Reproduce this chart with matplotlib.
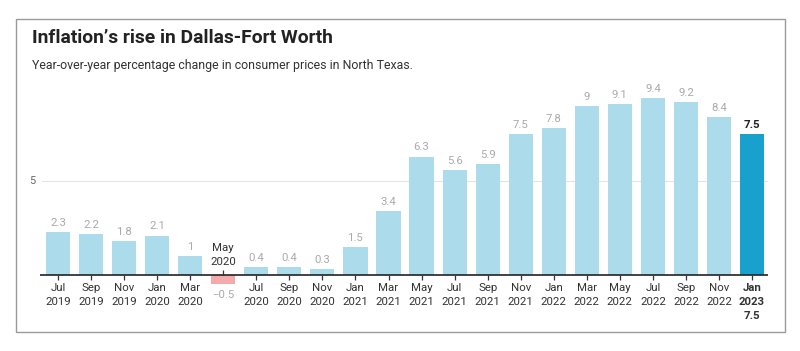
import matplotlib
matplotlib.use("Agg")
import matplotlib.pyplot as plt
from matplotlib.patches import Rectangle

months = ["Jul", "Sep", "Nov", "Jan", "Mar", "May", "Jul", "Sep", "Nov", "Jan", "Mar",
          "May", "Jul", "Sep", "Nov", "Jan", "Mar", "May", "Jul", "Sep", "Nov", "Jan"]
years = ["2019", "2019", "2019", "2020", "2020", "2020", "2020", "2020", "2020", "2021", "2021",
         "2021", "2021", "2021", "2021", "2022", "2022", "2022", "2022", "2022", "2022", "2023"]
values = [2.3, 2.2, 1.8, 2.1, 1, -0.5, 0.4, 0.4, 0.3, 1.5, 3.4,
          6.3, 5.6, 5.9, 7.5, 7.8, 9, 9.1, 9.4, 9.2, 8.4, 7.5]
value_labels = ["2.3", "2.2", "1.8", "2.1", "1", "\u22120.5", "0.4", "0.4", "0.3", "1.5", "3.4",
                "6.3", "5.6", "5.9", "7.5", "7.8", "9", "9.1", "9.4", "9.2", "8.4", "7.5"]
yticks = [5]

plt.rcParams['font.family'] = ['Roboto', 'DejaVu Sans']

W, H = 800, 351
fig = plt.figure(figsize=(W / 100, H / 100), dpi=100)
fig.patch.set_facecolor("white")

# frame
fig.patches.append(Rectangle((16 / W, 1 - 332 / H), (785 - 16) / W, (332 - 19) / H,
                             transform=fig.transFigure, fill=False, edgecolor="#9a9a9a",
                             linewidth=1.0))

fig.text(32 / W, 1 - 38 / H, "Inflation\u2019s rise in Dallas-Fort Worth", fontsize=13.9,
         fontweight="bold", color="#222222", va="center", ha="left")
fig.text(32 / W, 1 - 65 / H, "Year-over-year percentage change in consumer prices in North Texas.",
         fontsize=8.9, color="#333333", va="center", ha="left")

ymin, ymax = -0.6, 10.0
px_per_unit = 18.8
y0 = 275
ax_bottom = y0 + (-ymin) * px_per_unit
ax_top = y0 - ymax * px_per_unit
ax_left, ax_right = 40, 768
ax = fig.add_axes([ax_left / W, 1 - ax_bottom / H, (ax_right - ax_left) / W,
                   (ax_bottom - ax_top) / H])
ax.set_facecolor("none")
spacing = 33.05
x0 = (58 - ax_left) / spacing
ax.set_xlim(-x0, -x0 + (ax_right - ax_left) / spacing)
ax.set_ylim(ymin, ymax)
for s in ax.spines.values():
    s.set_visible(False)
ax.set_xticks([])
ax.set_yticks([])

n = len(values)
xs = list(range(n))
colors = []
for i, v in enumerate(values):
    if i == n - 1:
        colors.append("#18a1cd")
    elif v < 0:
        colors.append("#f4a9ab")
    else:
        colors.append("#acdcec")

for yt in yticks:
    ax.axhline(yt, color="#e3e3e3", linewidth=0.8, xmin=0.003, zorder=0)
    ax.text(-x0 - 0.25, yt, str(yt), ha="center", va="center", fontsize=7.8, color="#666666")

ax.bar(xs, values, width=0.73, color=colors, zorder=2)
ax.axhline(0, color="#222222", linewidth=1.2, zorder=3)

fs = 8.2
tick_len = 5 / px_per_unit
for i, v in enumerate(values):
    last = (i == n - 1)
    if v >= 0:
        ax.plot([i, i], [0, -tick_len], color="#333333", linewidth=0.9, zorder=3,
                solid_capstyle="butt")
        ax.text(i, v + 0.22, value_labels[i], ha="center", va="bottom", fontsize=fs,
                color="#222222" if last else "#aaaaaa",
                fontweight="bold" if last else "normal")
        ax.text(i, -0.45, months[i] + "\n" + years[i] + ("\n" + value_labels[i] if last else ""),
                ha="center", va="top", fontsize=fs, color="#333333", linespacing=1.5,
                fontweight="bold" if last else "normal", clip_on=False)
    else:
        ax.plot([i, i], [0, tick_len], color="#333333", linewidth=0.9, zorder=3,
                solid_capstyle="butt")
        ax.text(i, 0.42, months[i] + "\n" + years[i], ha="center", va="bottom",
                fontsize=fs, color="#333333", linespacing=1.5)
        ax.text(i, v - 0.3, value_labels[i], ha="center", va="top", fontsize=fs,
                color="#aaaaaa", clip_on=False)

fig.savefig("out.png", dpi=100, facecolor="white")
